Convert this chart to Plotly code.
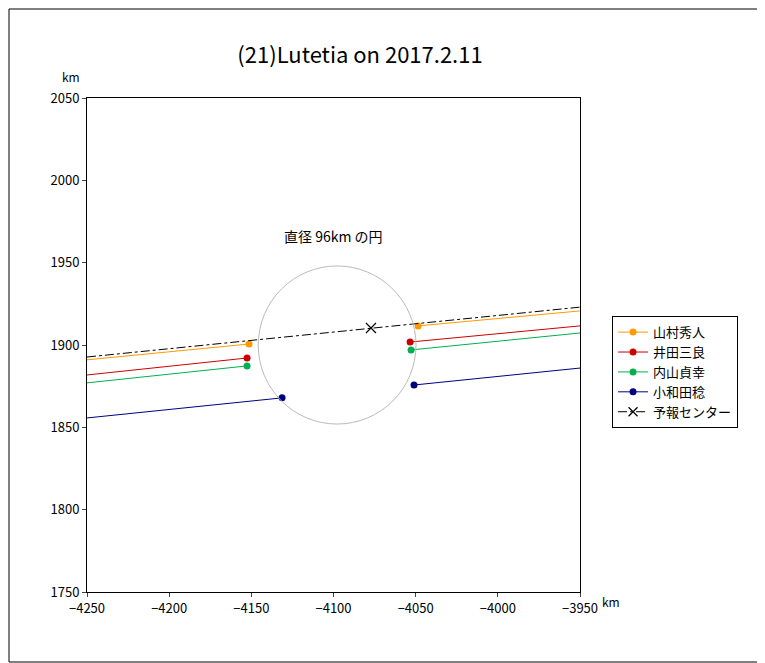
import plotly.graph_objects as go

names = ["山村秀人", "井田三良", "内山貞幸", "小和田稔"]
colors = ["#FF9900", "#CC0000", "#00B050", "#000080"]
left_y = [1891.0, 1881.8, 1877.0, 1855.7]
dot1_x = [-4151.4, -4152.6, -4152.6, -4131.3]
dot1_y = [1900.6, 1892.1, 1887.3, 1867.9]
dot2_x = [-4048.5, -4053.4, -4052.8, -4051.0]
dot2_y = [1911.6, 1901.8, 1897.0, 1875.7]
right_y = [1920.7, 1911.6, 1907.3, 1886.0]
pred_y = [1892.7, 1923.0]
center = (-4077.2, 1910.3)
circle_c = (-4097.8, 1900.0)
circle_r = 48
xmin, xmax = -4250, -3950

fig = go.Figure()
for n, c, ly, x1, y1, x2, y2, ry in zip(names, colors, left_y, dot1_x, dot1_y, dot2_x, dot2_y, right_y):
    fig.add_trace(go.Scatter(x=[xmin, x1, None, x2, xmax], y=[ly, y1, None, y2, ry], mode="lines",
                             line=dict(color=c, width=1), showlegend=False, hoverinfo="skip"))
    fig.add_trace(go.Scatter(x=[x1, x2], y=[y1, y2], mode="markers",
                             marker=dict(color=c, size=7), showlegend=False))
    fig.add_trace(go.Scatter(x=[None], y=[None], mode="lines+markers", name=n,
                             line=dict(color=c, width=1), marker=dict(color=c, size=7)))
fig.add_trace(go.Scatter(x=[xmin, xmax], y=pred_y, mode="lines", line=dict(color="black", width=1, dash="dashdot"),
                         showlegend=False))
fig.add_trace(go.Scatter(x=[center[0]], y=[center[1]], mode="markers",
                         marker=dict(symbol="x-thin", size=10, line=dict(color="black", width=1.2)), showlegend=False))
fig.add_trace(go.Scatter(x=[None], y=[None], mode="lines+markers", name="予報センター",
                         line=dict(color="black", width=1, dash="dashdot"),
                         marker=dict(symbol="x-thin", size=9, line=dict(color="black", width=1.2))))

fig.add_shape(type="circle", xref="x", yref="y", x0=circle_c[0]-circle_r, x1=circle_c[0]+circle_r,
              y0=circle_c[1]-circle_r, y1=circle_c[1]+circle_r, line=dict(color="#BBBBBB", width=1))
fig.add_shape(type="rect", xref="paper", yref="paper", x0=-78/493, x1=1+184/493, y0=-70/494, y1=1+89/494,
              line=dict(color="black", width=1))
fig.add_annotation(x=-4100, y=1966, text="直径 96km の円", showarrow=False, font=dict(size=14))
fig.add_annotation(x=-0.055, y=1.065, xref="paper", yref="paper", text="km", showarrow=False, font=dict(size=12))
fig.add_annotation(x=1.085, y=-0.04, xref="paper", yref="paper", text="km", showarrow=False, font=dict(size=12))

fig.update_layout(
    width=757, height=655, margin=dict(l=79, r=185, t=90, b=71),
    paper_bgcolor="white", plot_bgcolor="white",
    font=dict(family="Noto Sans CJK JP", color="black", size=13),
    title=dict(text="(21)Lutetia on 2017.2.11", x=0.465, xanchor="center", y=0.94, font=dict(size=22)),
    xaxis=dict(range=[xmin, xmax], dtick=50, showgrid=False, zeroline=False, showline=True, mirror=True,
               linecolor="black", ticks="outside", ticklen=4, tickformat="d"),
    yaxis=dict(range=[1750, 2050], dtick=50, showgrid=False, zeroline=False, showline=True, mirror=True,
               linecolor="black", ticks="outside", ticklen=4),
    legend=dict(x=1.065, y=0.445, xanchor="left", yanchor="middle", bordercolor="black", borderwidth=1,
                font=dict(size=13), tracegroupgap=0),
)
fig.write_html("out.html")
